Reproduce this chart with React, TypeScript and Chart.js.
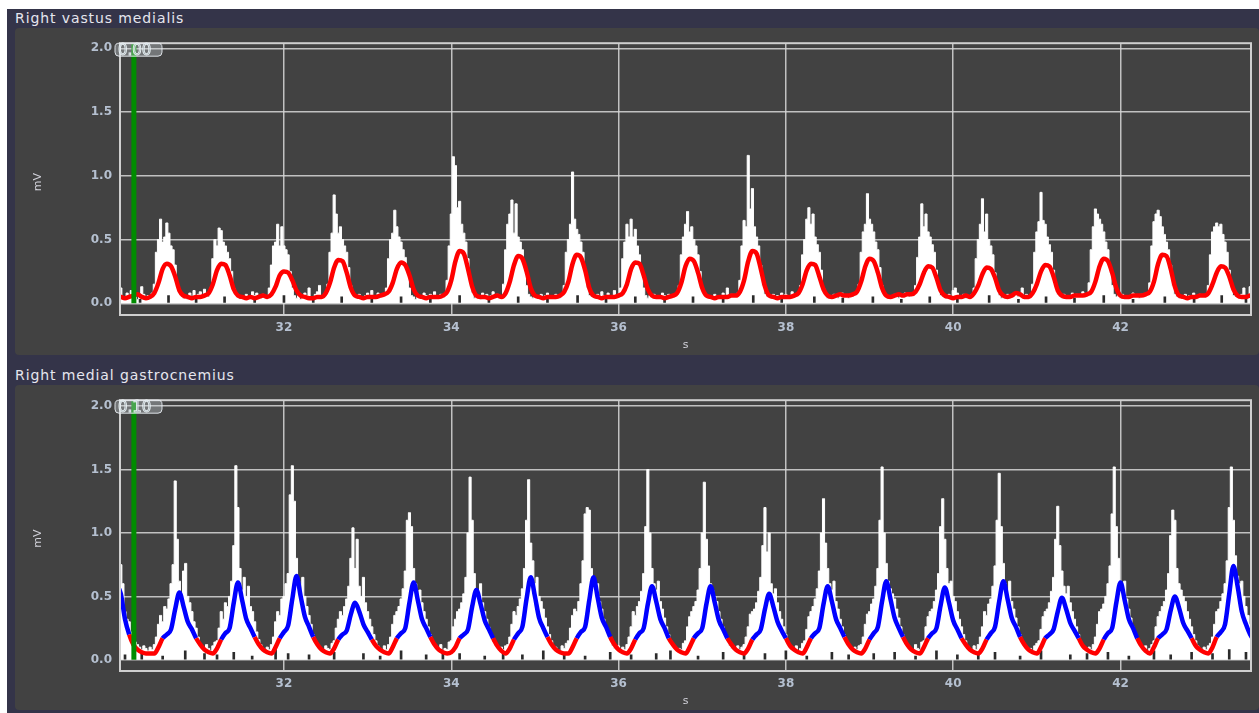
import React, { useEffect, useRef } from "react";
import { Chart, registerables } from "chart.js";
Chart.register(...registerables);

// ---------- axes ----------
const X_MIN = 30.04;
const X_MAX = 43.56;
const xTickValues = [32, 34, 36, 38, 40, 42];
const yTickValues = [0, 0.5, 1.0, 1.5, 2.0];
const RAW_T0 = 30.0;
const RAW_DT = 0.025;
const ENV_T0 = 30.0;
const ENV_DT = 0.05;
const cursorTime = 30.206;
const panelTitles = ["Right vastus medialis", "Right medial gastrocnemius"];
const cursorLabels = ["0.00", "0.10"];

// ---------- Right vastus medialis : raw EMG (quiet stretches / bursts, 0.025 s samples) ----------
const vmQuiet: number[][] = [
  [0.06, 0.04, 0.12, 0.05, 0.03, 0.08, 0.05, 0.10, 0.04, 0.06, 0.03, 0.05, 0.13, 0.07, 0.04, 0.06, 0.05, 0.08],
  [0.05, 0.04, 0.06, 0.03, 0.08, 0.05, 0.10, 0.04, 0.07, 0.09, 0.05, 0.11, 0.06, 0.05],
  [0.05, 0.03, 0.06, 0.04, 0.07, 0.05, 0.04, 0.09, 0.06, 0.08, 0.05, 0.04, 0.07, 0.05, 0.06],
  [0.04, 0.06, 0.03, 0.05, 0.08, 0.06, 0.12, 0.05, 0.04, 0.07, 0.09, 0.14, 0.06, 0.05, 0.07],
  [0.05, 0.04, 0.07, 0.05, 0.03, 0.06, 0.08, 0.05, 0.10, 0.04, 0.06, 0.08, 0.05, 0.07, 0.06],
  [0.05, 0.03, 0.06, 0.04, 0.05, 0.08, 0.06, 0.04, 0.07, 0.05, 0.09, 0.06, 0.04, 0.07, 0.05, 0.06],
  [0.04, 0.06, 0.05, 0.03, 0.08, 0.05, 0.07, 0.04, 0.06, 0.09, 0.05, 0.07, 0.04, 0.06],
  [0.05, 0.04, 0.06, 0.05, 0.03, 0.07, 0.05, 0.06, 0.08, 0.04, 0.06, 0.05, 0.07, 0.05, 0.04, 0.06],
  [0.05, 0.06, 0.04, 0.07, 0.05, 0.09, 0.06, 0.04, 0.08, 0.05, 0.06, 0.10, 0.05, 0.07],
  [0.04, 0.06, 0.05, 0.07, 0.04, 0.06, 0.05, 0.08, 0.06, 0.05, 0.07, 0.04, 0.06, 0.05, 0.07],
  [0.05, 0.04, 0.06, 0.05, 0.07, 0.04, 0.06, 0.05, 0.08, 0.06, 0.12, 0.05, 0.07, 0.05, 0.06, 0.08],
  [0.05, 0.06, 0.04, 0.07, 0.05, 0.06, 0.04, 0.08, 0.05, 0.07, 0.06, 0.05, 0.09, 0.06, 0.05, 0.07],
  [0.04, 0.06, 0.05, 0.07, 0.05, 0.04, 0.06, 0.08, 0.05, 0.06, 0.04, 0.07, 0.05, 0.06, 0.08],
  [0.05, 0.04, 0.06, 0.05, 0.07, 0.05, 0.04, 0.06, 0.05, 0.08, 0.06, 0.05, 0.07, 0.06],
  [0.05, 0.06, 0.04, 0.07, 0.05, 0.10, 0.12, 0.08, 0.06, 0.05, 0.07, 0.04, 0.06, 0.05, 0.07],
  [0.04, 0.06, 0.05, 0.07, 0.04, 0.06, 0.05, 0.08, 0.05, 0.06, 0.12, 0.05, 0.07, 0.06, 0.05],
  [0.05, 0.04, 0.07, 0.05, 0.06, 0.04, 0.08, 0.05, 0.07, 0.06, 0.05, 0.09, 0.06, 0.07],
  [0.05, 0.06, 0.04, 0.07, 0.05, 0.06, 0.04, 0.05, 0.08, 0.05, 0.06, 0.04, 0.07, 0.05, 0.06, 0.08],
  [0.05, 0.04, 0.06, 0.05, 0.07, 0.05, 0.06, 0.04, 0.08, 0.05, 0.06, 0.07, 0.05, 0.06, 0.07],
  [0.05, 0.06, 0.04, 0.07, 0.12, 0.05, 0.06, 0.13, 0.05, 0.06],
];
const vmBursts: number[][] = [
  [0.15, 0.40, 0.50, 0.66, 0.48, 0.52, 0.63, 0.55, 0.45, 0.42, 0.30, 0.15, 0.08],
  [0.12, 0.35, 0.50, 0.45, 0.59, 0.57, 0.48, 0.45, 0.40, 0.35, 0.25, 0.12, 0.07],
  [0.12, 0.30, 0.45, 0.48, 0.62, 0.45, 0.60, 0.45, 0.42, 0.38, 0.25, 0.12, 0.06],
  [0.15, 0.40, 0.55, 0.85, 0.70, 0.55, 0.60, 0.50, 0.45, 0.40, 0.28, 0.14, 0.07],
  [0.12, 0.35, 0.50, 0.55, 0.73, 0.60, 0.52, 0.48, 0.42, 0.36, 0.24, 0.12, 0.06],
  [0.18, 0.45, 0.70, 1.15, 1.08, 0.75, 0.80, 0.62, 0.55, 0.48, 0.35, 0.16, 0.08],
  [0.15, 0.42, 0.62, 0.70, 0.81, 0.55, 0.78, 0.52, 0.48, 0.42, 0.28, 0.14, 0.07],
  [0.14, 0.40, 0.50, 0.62, 1.03, 0.66, 0.58, 0.54, 0.48, 0.40, 0.26, 0.12, 0.06],
  [0.12, 0.35, 0.48, 0.62, 0.52, 0.66, 0.52, 0.58, 0.45, 0.38, 0.24, 0.12, 0.06],
  [0.14, 0.38, 0.52, 0.62, 0.72, 0.56, 0.60, 0.50, 0.45, 0.38, 0.25, 0.13, 0.07],
  [0.18, 0.45, 0.65, 0.60, 1.16, 0.74, 0.90, 0.60, 0.52, 0.45, 0.30, 0.14, 0.07],
  [0.14, 0.38, 0.50, 0.66, 0.75, 0.62, 0.70, 0.52, 0.46, 0.40, 0.26, 0.12, 0.06],
  [0.15, 0.40, 0.56, 0.62, 0.86, 0.66, 0.62, 0.56, 0.48, 0.42, 0.28, 0.14, 0.07],
  [0.14, 0.36, 0.52, 0.78, 0.60, 0.70, 0.56, 0.52, 0.46, 0.40, 0.26, 0.12, 0.06],
  [0.12, 0.35, 0.50, 0.62, 0.82, 0.56, 0.70, 0.50, 0.45, 0.38, 0.24, 0.12, 0.06],
  [0.15, 0.40, 0.56, 0.64, 0.87, 0.65, 0.62, 0.52, 0.46, 0.40, 0.26, 0.13, 0.07],
  [0.16, 0.42, 0.60, 0.74, 0.70, 0.66, 0.62, 0.56, 0.48, 0.42, 0.28, 0.14, 0.07],
  [0.16, 0.45, 0.64, 0.70, 0.73, 0.68, 0.60, 0.54, 0.48, 0.42, 0.30, 0.14, 0.07],
  [0.14, 0.38, 0.56, 0.60, 0.63, 0.60, 0.62, 0.54, 0.48, 0.40, 0.26, 0.12, 0.06],
];
// ---------- Right vastus medialis : envelope (0.05 s samples) ----------
const vmEnvelope: number[][] = [
  [0.06, 0.05, 0.04, 0.05, 0.06, 0.07],
  [0.05, 0.04, 0.05, 0.08, 0.16, 0.27, 0.31, 0.29, 0.21, 0.10, 0.06, 0.05, 0.04],
  [0.05, 0.05, 0.06, 0.08, 0.15, 0.26, 0.31, 0.30, 0.22, 0.11, 0.06, 0.05, 0.04, 0.05, 0.04],
  [0.05, 0.06, 0.05, 0.07, 0.13, 0.22, 0.25, 0.24, 0.18, 0.10, 0.06, 0.05, 0.04],
  [0.04, 0.05, 0.05, 0.08, 0.16, 0.28, 0.34, 0.33, 0.24, 0.12, 0.06, 0.05, 0.04, 0.05, 0.05],
  [0.05, 0.06, 0.07, 0.09, 0.16, 0.27, 0.32, 0.30, 0.22, 0.11, 0.06, 0.05, 0.04, 0.05],
  [0.05, 0.05, 0.06, 0.09, 0.18, 0.33, 0.41, 0.39, 0.27, 0.13, 0.06, 0.05, 0.05, 0.04],
  [0.05, 0.06, 0.05, 0.08, 0.17, 0.30, 0.37, 0.35, 0.25, 0.12, 0.06, 0.05, 0.04, 0.05],
  [0.05, 0.05, 0.06, 0.09, 0.17, 0.31, 0.38, 0.36, 0.26, 0.12, 0.06, 0.05, 0.04, 0.05],
  [0.05, 0.05, 0.06, 0.08, 0.15, 0.27, 0.32, 0.31, 0.22, 0.11, 0.06, 0.05, 0.05],
  [0.04, 0.05, 0.06, 0.08, 0.16, 0.29, 0.35, 0.33, 0.24, 0.12, 0.06, 0.05, 0.04, 0.05, 0.05],
  [0.05, 0.06, 0.06, 0.09, 0.18, 0.33, 0.41, 0.39, 0.27, 0.13, 0.06, 0.05, 0.04, 0.05],
  [0.05, 0.05, 0.06, 0.08, 0.15, 0.26, 0.31, 0.30, 0.21, 0.11, 0.06, 0.05, 0.06, 0.07],
  [0.06, 0.06, 0.07, 0.09, 0.17, 0.29, 0.35, 0.33, 0.24, 0.12, 0.06, 0.05, 0.06, 0.07],
  [0.06, 0.07, 0.07, 0.09, 0.15, 0.24, 0.29, 0.28, 0.20, 0.10, 0.06, 0.05, 0.04, 0.05],
  [0.05, 0.06, 0.05, 0.08, 0.14, 0.23, 0.28, 0.27, 0.20, 0.10, 0.06, 0.05, 0.06, 0.08],
  [0.07, 0.05, 0.05, 0.08, 0.15, 0.25, 0.30, 0.29, 0.21, 0.10, 0.06, 0.05, 0.05, 0.06],
  [0.06, 0.06, 0.07, 0.09, 0.17, 0.29, 0.35, 0.33, 0.24, 0.12, 0.06, 0.05, 0.05, 0.06],
  [0.06, 0.06, 0.07, 0.09, 0.17, 0.31, 0.38, 0.37, 0.27, 0.13, 0.06, 0.05, 0.04, 0.05],
  [0.05, 0.06, 0.06, 0.08, 0.15, 0.24, 0.29, 0.28, 0.21, 0.11, 0.06, 0.05, 0.05, 0.06, 0.06],
];
const vmFloorTimes = [30.28, 30.62, 30.95, 31.29, 31.65, 32.0, 32.35, 32.69, 33.05, 33.4, 33.75, 34.1, 34.45, 34.8, 35.15, 35.51, 35.85, 36.2, 36.55, 36.89, 37.25, 37.61, 37.95, 38.34, 38.68, 39.04, 39.38, 39.72, 40.05, 40.43, 40.78, 41.11, 41.45, 41.8, 42.15, 42.53, 42.88, 43.21, 43.5];
const vmFloorValues = [0.03, 0.06, 0.03, 0.05, 0.04, 0.06, 0.03, 0.05, 0.04, 0.05, 0.03, 0.06, 0.04, 0.05, 0.03, 0.06, 0.04, 0.05, 0.03, 0.05, 0.04, 0.06, 0.03, 0.05, 0.04, 0.05, 0.03, 0.05, 0.04, 0.06, 0.03, 0.05, 0.04, 0.06, 0.03, 0.05, 0.04, 0.06, 0.04];

// ---------- Right medial gastrocnemius : raw EMG ----------
const gmQuiet: number[][] = [
  [0.55, 0.9, 0.75, 0.6, 0.38, 0.32, 0.3, 0.22, 0.18, 0.14, 0.12, 0.1, 0.08, 0.11, 0.09, 0.07, 0.1, 0.08, 0.12],
  [0.1, 0.08, 0.12, 0.09, 0.07, 0.11, 0.14],
  [0.09, 0.07, 0.1, 0.08, 0.12],
  [0.1, 0.08, 0.07, 0.11, 0.09, 0.08, 0.13],
  [0.09, 0.07, 0.11, 0.08, 0.12],
  [0.1, 0.08, 0.12, 0.07, 0.09, 0.08, 0.14],
  [0.09, 0.07, 0.1, 0.08, 0.11, 0.12],
  [0.1, 0.08, 0.07, 0.11, 0.09, 0.13],
  [0.09, 0.08, 0.11, 0.07, 0.1, 0.08, 0.12],
  [0.1, 0.07, 0.09, 0.08, 0.13],
  [0.09, 0.08, 0.07, 0.11, 0.08, 0.1, 0.12],
  [0.1, 0.08, 0.11, 0.07, 0.09, 0.13],
  [0.09, 0.07, 0.1, 0.08, 0.11, 0.12],
  [0.1, 0.08, 0.07, 0.12, 0.09, 0.08, 0.14],
  [0.09, 0.07, 0.11, 0.08, 0.12],
  [0.1, 0.08, 0.09, 0.07, 0.11, 0.13],
  [0.09, 0.07, 0.1, 0.08, 0.12],
  [0.1, 0.08, 0.11, 0.07, 0.09, 0.12],
  [0.09, 0.07, 0.1, 0.08, 0.11, 0.13],
];
const gmBursts: number[][] = [
  [0.18, 0.28, 0.35, 0.3, 0.42, 0.4, 0.48, 0.6, 0.75, 1.41, 0.95, 0.62, 0.5, 0.7, 0.76, 0.5, 0.45, 0.38, 0.3, 0.25, 0.18, 0.12],
  [0.15, 0.25, 0.38, 0.32, 0.45, 0.42, 0.5, 0.62, 0.9, 1.53, 1.2, 0.72, 0.55, 0.65, 0.5, 0.58, 0.42, 0.38, 0.3, 0.22, 0.16, 0.12],
  [0.18, 0.3, 0.38, 0.35, 0.48, 0.5, 0.6, 0.68, 1.3, 1.53, 1.25, 0.8, 0.62, 0.55, 0.65, 0.5, 0.42, 0.35, 0.28, 0.2, 0.15, 0.11],
  [0.15, 0.25, 0.32, 0.38, 0.35, 0.42, 0.48, 0.58, 0.8, 1.04, 0.72, 0.95, 0.58, 0.5, 0.65, 0.45, 0.38, 0.32, 0.26, 0.2, 0.15, 0.11],
  [0.18, 0.28, 0.35, 0.38, 0.42, 0.48, 0.56, 0.7, 1.1, 1.16, 1.05, 0.72, 0.6, 0.5, 0.55, 0.45, 0.38, 0.32, 0.26, 0.2, 0.15, 0.11],
  [0.15, 0.26, 0.32, 0.38, 0.4, 0.45, 0.52, 0.65, 1.0, 1.44, 1.1, 0.68, 0.55, 0.5, 0.6, 0.45, 0.38, 0.32, 0.26, 0.2, 0.14, 0.11],
  [0.18, 0.28, 0.38, 0.35, 0.42, 0.48, 0.56, 0.72, 1.1, 1.42, 0.92, 0.78, 0.6, 0.65, 0.5, 0.46, 0.4, 0.33, 0.26, 0.2, 0.15, 0.11],
  [0.15, 0.25, 0.35, 0.4, 0.38, 0.46, 0.6, 0.78, 1.15, 1.2, 1.18, 0.72, 0.62, 0.55, 0.6, 0.46, 0.4, 0.32, 0.26, 0.2, 0.15, 0.11],
  [0.18, 0.26, 0.38, 0.35, 0.42, 0.46, 0.54, 0.68, 1.05, 1.5, 1.0, 0.72, 0.6, 0.55, 0.62, 0.46, 0.4, 0.33, 0.26, 0.2, 0.15, 0.11],
  [0.15, 0.26, 0.34, 0.38, 0.42, 0.46, 0.55, 0.72, 1.0, 1.4, 0.95, 0.74, 0.6, 0.55, 0.5, 0.46, 0.38, 0.32, 0.26, 0.2, 0.15, 0.11],
  [0.18, 0.26, 0.36, 0.38, 0.4, 0.45, 0.54, 0.65, 0.9, 1.2, 0.85, 1.0, 0.6, 0.52, 0.56, 0.45, 0.38, 0.32, 0.26, 0.2, 0.14, 0.11],
  [0.15, 0.24, 0.34, 0.38, 0.42, 0.48, 0.56, 0.7, 1.0, 1.27, 0.92, 0.72, 0.6, 0.55, 0.62, 0.46, 0.4, 0.32, 0.26, 0.2, 0.15, 0.11],
  [0.18, 0.28, 0.36, 0.38, 0.44, 0.48, 0.58, 0.72, 1.1, 1.52, 1.0, 0.76, 0.62, 0.56, 0.52, 0.48, 0.4, 0.33, 0.26, 0.2, 0.15, 0.11],
  [0.15, 0.26, 0.34, 0.38, 0.4, 0.46, 0.55, 0.68, 1.05, 1.27, 0.95, 0.72, 0.6, 0.62, 0.5, 0.46, 0.38, 0.32, 0.26, 0.2, 0.15, 0.11],
  [0.18, 0.26, 0.38, 0.35, 0.44, 0.48, 0.58, 0.74, 1.1, 1.47, 1.05, 0.76, 0.6, 0.55, 0.62, 0.46, 0.4, 0.33, 0.26, 0.2, 0.15, 0.11],
  [0.15, 0.24, 0.34, 0.38, 0.4, 0.45, 0.54, 0.65, 0.95, 1.21, 0.9, 0.7, 0.58, 0.52, 0.58, 0.45, 0.38, 0.32, 0.26, 0.2, 0.14, 0.11],
  [0.18, 0.28, 0.38, 0.4, 0.44, 0.5, 0.6, 0.74, 1.15, 1.52, 1.05, 0.8, 0.62, 0.56, 0.62, 0.48, 0.4, 0.33, 0.26, 0.2, 0.15, 0.11],
  [0.15, 0.26, 0.34, 0.38, 0.42, 0.46, 0.55, 0.68, 0.98, 1.18, 1.1, 0.72, 0.6, 0.55, 0.5, 0.46, 0.38, 0.32, 0.26, 0.2, 0.15, 0.11],
  [0.18, 0.28, 0.38, 0.4, 0.46, 0.52, 0.6, 0.78, 1.2, 1.52, 1.1, 0.82, 0.66, 0.6, 0.62, 0.5, 0.42, 0.35, 0.28, 0.22, 0.18, 0.14],
];
// ---------- Right medial gastrocnemius : envelope ----------
const gmEnvelope: number[][] = [
  [0.60, 0.52, 0.32, 0.20, 0.12, 0.08, 0.06, 0.05, 0.05],
  [0.05, 0.10, 0.17, 0.20, 0.24, 0.40, 0.53, 0.42, 0.30, 0.24, 0.17, 0.12, 0.08, 0.06],
  [0.05, 0.09, 0.16, 0.21, 0.25, 0.45, 0.61, 0.47, 0.32, 0.25, 0.18, 0.12, 0.08, 0.06],
  [0.05, 0.10, 0.17, 0.22, 0.27, 0.48, 0.66, 0.50, 0.34, 0.26, 0.18, 0.12, 0.08, 0.06],
  [0.05, 0.09, 0.16, 0.20, 0.23, 0.36, 0.45, 0.38, 0.28, 0.22, 0.16, 0.11, 0.08, 0.06],
  [0.05, 0.10, 0.17, 0.21, 0.25, 0.45, 0.61, 0.47, 0.32, 0.25, 0.18, 0.12, 0.08, 0.06, 0.05],
  [0.06, 0.10, 0.17, 0.20, 0.24, 0.42, 0.55, 0.44, 0.31, 0.24, 0.17, 0.11, 0.07],
  [0.05, 0.09, 0.16, 0.21, 0.26, 0.48, 0.65, 0.50, 0.33, 0.25, 0.18, 0.12, 0.08, 0.06, 0.05],
  [0.05, 0.10, 0.17, 0.22, 0.26, 0.47, 0.65, 0.49, 0.33, 0.26, 0.18, 0.12, 0.08, 0.06],
  [0.05, 0.09, 0.16, 0.21, 0.25, 0.44, 0.58, 0.46, 0.32, 0.25, 0.17, 0.12, 0.08, 0.06],
  [0.05, 0.10, 0.17, 0.21, 0.25, 0.44, 0.58, 0.45, 0.31, 0.24, 0.17, 0.12, 0.08, 0.06],
  [0.05, 0.09, 0.16, 0.20, 0.24, 0.40, 0.52, 0.42, 0.30, 0.23, 0.17, 0.11, 0.08, 0.06],
  [0.05, 0.10, 0.17, 0.21, 0.25, 0.44, 0.58, 0.46, 0.32, 0.25, 0.18, 0.12, 0.08, 0.06],
  [0.05, 0.09, 0.16, 0.21, 0.26, 0.46, 0.62, 0.48, 0.33, 0.25, 0.18, 0.12, 0.08, 0.06],
  [0.05, 0.10, 0.17, 0.21, 0.25, 0.43, 0.57, 0.45, 0.31, 0.24, 0.17, 0.12, 0.08, 0.06],
  [0.05, 0.09, 0.16, 0.21, 0.26, 0.46, 0.62, 0.48, 0.33, 0.26, 0.18, 0.12, 0.08, 0.06],
  [0.05, 0.10, 0.17, 0.20, 0.24, 0.38, 0.49, 0.40, 0.29, 0.23, 0.17, 0.11, 0.08, 0.06],
  [0.05, 0.09, 0.16, 0.21, 0.25, 0.45, 0.61, 0.47, 0.32, 0.25, 0.17, 0.11, 0.07],
  [0.05, 0.10, 0.17, 0.20, 0.24, 0.39, 0.50, 0.41, 0.29, 0.23, 0.17, 0.11, 0.08, 0.06],
  [0.05, 0.10, 0.18, 0.22, 0.28, 0.52, 0.74, 0.58, 0.38, 0.28, 0.20, 0.15],
];
const gmFloorTimes = [30.1, 30.3, 30.55, 30.82, 31.05, 31.2, 31.4, 31.62, 31.9, 32.05, 32.3, 32.6, 32.95, 33.15, 33.4, 33.7, 33.9, 34.1, 34.4, 34.62, 34.85, 35.1, 35.35, 35.6, 35.9, 36.15, 36.45, 36.62, 36.95, 37.25, 37.5, 37.75, 38.0, 38.25, 38.55, 38.75, 39.05, 39.3, 39.55, 39.8, 40.05, 40.3, 40.5, 40.8, 41.05, 41.4, 41.6, 41.85, 42.1, 42.4, 42.6, 42.85, 43.1, 43.3, 43.5];
const gmFloorValues = [0.04, 0.06, 0.03, 0.07, 0.05, 0.04, 0.06, 0.03, 0.08, 0.05, 0.04, 0.06, 0.05, 0.03, 0.07, 0.04, 0.06, 0.05, 0.03, 0.06, 0.04, 0.07, 0.05, 0.03, 0.06, 0.04, 0.05, 0.07, 0.03, 0.06, 0.04, 0.05, 0.07, 0.03, 0.06, 0.04, 0.05, 0.06, 0.03, 0.07, 0.04, 0.05, 0.06, 0.03, 0.07, 0.04, 0.05, 0.06, 0.03, 0.07, 0.04, 0.06, 0.05, 0.08, 0.06];

// ---------- helpers ----------
function interleave(quiet: number[][], bursts: number[][]): number[] {
  const out: number[] = [];
  const n = Math.max(quiet.length, bursts.length);
  for (let i = 0; i < n; i++) {
    if (quiet[i]) out.push(...quiet[i]);
    if (bursts[i]) out.push(...bursts[i]);
  }
  return out;
}
const toXY = (vals: number[], t0: number, dt: number) => vals.map((y, i) => ({ x: t0 + i * dt, y }));
const pairs = (xs: number[], ys: number[]) => xs.map((x, i) => ({ x, y: ys[i] }));

const NAVY = "#343449";
const PANEL = "#424242";
const GRID = "rgba(215,215,215,0.85)";
const TICK = "#b5c0d0";
const TICK_FONT = { family: "'DejaVu Sans', sans-serif", size: 12, weight: "bold" };

type PanelProps = {
  title: string;
  label: string;
  top: number;
  height: number;
  padTop: number;
  xAxisH: number;
  yMin: number;
  yMax: number;
  raw: { x: number; y: number }[];
  env: { x: number; y: number }[];
  floor: { x: number; y: number }[];
  twoColor: boolean;
};

function Panel(p: PanelProps) {
  const ref = useRef<HTMLCanvasElement | null>(null);
  useEffect(() => {
    if (!ref.current) return;
    const extras = {
      id: "extras",
      afterDatasetsDraw(chart: any) {
        const { ctx, chartArea: a } = chart;
        ctx.save();
        ctx.strokeStyle = "#cfcfcf";
        ctx.lineWidth = 2;
        ctx.strokeRect(a.left, a.top, a.right - a.left, a.bottom - a.top);
        ctx.restore();
      },
      afterDraw(chart: any) {
        const { ctx, chartArea: a } = chart;
        ctx.save();
        // cursor value label
        const bx = a.left - 5, by = a.top, bw = 47, bh = 13;
        ctx.beginPath();
        (ctx as any).roundRect(bx, by, bw, bh, 4);
        ctx.fillStyle = "rgba(205,215,222,0.35)";
        ctx.fill();
        ctx.strokeStyle = "rgba(235,240,245,0.9)";
        ctx.lineWidth = 1;
        ctx.stroke();
        ctx.font = '15px "DejaVu Sans"';
        ctx.textBaseline = "middle";
        ctx.textAlign = "left";
        ctx.fillStyle = "rgba(150,170,180,0.45)";
        ctx.strokeStyle = "rgba(235,242,246,0.95)";
        ctx.lineWidth = 0.9;
        ctx.fillText(p.label, bx + 3, by + bh / 2 + 1);
        ctx.strokeText(p.label, bx + 3, by + bh / 2 + 1);
        // axis titles
        ctx.fillStyle = "#d2d2da";
        ctx.font = '11px "DejaVu Sans", sans-serif';
        ctx.textAlign = "center";
        ctx.textBaseline = "middle";
        ctx.fillText("s", (a.left + a.right) / 2, a.bottom + 30);
        ctx.translate(23, (a.top + a.bottom) / 2 + 3);
        ctx.rotate(-Math.PI / 2);
        ctx.fillText("mV", 0, 0);
        ctx.restore();
      },
    };
    const chart = new Chart(ref.current, {
      type: "line",
      data: {
        datasets: [
          {
            type: "line",
            label: "cursor",
            data: [{ x: cursorTime, y: 0 }, { x: cursorTime, y: p.yMax }],
            borderColor: "#008c00",
            borderWidth: 5,
            pointRadius: 0,
            fill: false,
            order: 0,
          },
          {
            type: "line",
            label: "envelope",
            data: p.env,
            borderColor: "#ff0000",
            borderWidth: 4.5,
            pointRadius: 0,
            fill: false,
            cubicInterpolationMode: "monotone",
            order: 1,
            ...(p.twoColor
              ? {
                  segment: {
                    borderColor: (c: any) =>
                      c.p0.parsed.y >= 0.14 && c.p1.parsed.y >= 0.14 ? "#0000ff" : "#ff0000",
                  },
                }
              : {}),
          },
          {
            type: "bar",
            label: "floor",
            data: p.floor,
            backgroundColor: "#2b2b2b",
            barThickness: 2,
            grouped: false,
            order: 2,
          },
          {
            type: "line",
            label: "raw",
            data: p.raw,
            borderColor: "#ffffff",
            backgroundColor: "#ffffff",
            borderWidth: 1,
            stepped: "middle",
            fill: "origin",
            pointRadius: 0,
            order: 3,
          },
        ] as any,
      },
      options: {
        responsive: false,
        maintainAspectRatio: false,
        animation: false,
        events: [],
        layout: { padding: { left: 0, right: 8, top: p.padTop, bottom: 0 } },
        plugins: { legend: { display: false }, tooltip: { enabled: false } },
        scales: {
          x: {
            type: "linear",
            min: X_MIN,
            max: X_MAX,
            offset: false,
            afterBuildTicks: (s: any) => {
              s.ticks = xTickValues.map((v) => ({ value: v }));
            },
            afterFit: (s: any) => {
              s.height = p.xAxisH;
            },
            grid: { color: GRID, lineWidth: 1.5, drawTicks: false, offset: false },
            border: { display: false },
            ticks: {
              color: TICK,
              font: TICK_FONT,
              padding: 6,
              maxRotation: 0,
              autoSkip: false,
              callback: (v: any) => String(v),
            },
          },
          y: {
            type: "linear",
            min: p.yMin,
            max: p.yMax,
            afterBuildTicks: (s: any) => {
              s.ticks = yTickValues.map((v) => ({ value: v }));
            },
            afterFit: (s: any) => {
              s.width = 105;
            },
            grid: { color: GRID, lineWidth: 1.5, drawTicks: false, offset: false },
            border: { display: false },
            ticks: {
              color: TICK,
              font: TICK_FONT,
              padding: 8,
              callback: (v: any) => Number(v).toFixed(1),
            },
          },
        },
      } as any,
      plugins: [extras],
    });
    return () => chart.destroy();
  }, []);

  return (
    <>
      <div
        style={{
          position: "absolute",
          left: 15,
          top: p.top - 18,
          fontFamily: "'DejaVu Sans', sans-serif",
          fontSize: 14,
          letterSpacing: "0.9px",
          lineHeight: "17px",
          color: "#e6e6ee",
        }}
      >
        {p.title}
      </div>
      <div
        style={{
          position: "absolute",
          left: 15,
          top: p.top,
          width: 1244,
          height: p.height,
          background: PANEL,
          borderRadius: 4,
        }}
      >
        <canvas ref={ref} width={1244} height={p.height} style={{ display: "block" }} />
      </div>
    </>
  );
}

export default function App() {
  const vmRaw = toXY(interleave(vmQuiet, vmBursts), RAW_T0, RAW_DT);
  const vmEnv = toXY(vmEnvelope.flat(), ENV_T0, ENV_DT);
  const gmRaw = toXY(interleave(gmQuiet, gmBursts), RAW_T0, RAW_DT);
  const gmEnv = toXY(gmEnvelope.flat(), ENV_T0, ENV_DT);
  return (
    <div style={{ position: "fixed", left: 0, top: 0, width: 1259, height: 713, background: "#ffffff", overflow: "hidden" }}>
      <div style={{ position: "absolute", left: 7, top: 9, width: 1252, height: 704, background: NAVY }} />
      <Panel
        title={panelTitles[0]}
        label={cursorLabels[0]}
        top={28}
        height={327}
        padTop={11}
        xAxisH={40}
        yMin={-0.092}
        yMax={2.04}
        raw={vmRaw}
        env={vmEnv}
        floor={pairs(vmFloorTimes, vmFloorValues)}
        twoColor={false}
      />
      <Panel
        title={panelTitles[1]}
        label={cursorLabels[1]}
        top={385}
        height={325}
        padTop={8}
        xAxisH={39}
        yMin={-0.088}
        yMax={2.046}
        raw={gmRaw}
        env={gmEnv}
        floor={pairs(gmFloorTimes, gmFloorValues)}
        twoColor={true}
      />
    </div>
  );
}
